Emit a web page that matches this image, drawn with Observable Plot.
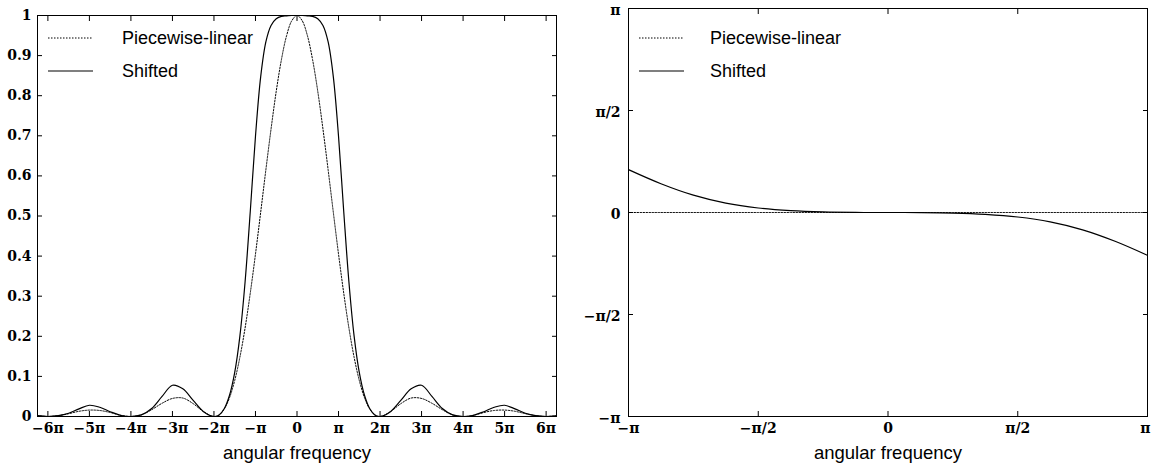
<!DOCTYPE html>
<html>
<head>
<meta charset="utf-8">
<script src="https://cdn.jsdelivr.net/npm/d3@7"></script>
<script src="https://cdn.jsdelivr.net/npm/@observablehq/plot@0.6"></script>
<style>
  html, body { margin: 0; padding: 0; background: white; overflow: hidden; }
  #wrap { position: relative; width: 1151px; height: 473px; }
  .panel { position: absolute; top: 0; }
  .legend-row { position: absolute; height: 18px; display: flex; align-items: center;
    font-family: "Liberation Sans", Arial, sans-serif; font-size: 18px; line-height: 18px; color: black; }
  .legend-row svg { display: block; }
</style>
</head>
<body>
<div id="wrap"></div>
<script>
// ---- Data (x in units of pi) ----
const leftX = [-6.25,-6,-5.75,-5.5,-5.25,-5,-4.75,-4.5,-4.25,-4,-3.75,-3.5,-3.25,-3,-2.75,-2.5,-2.25,-2,
  -1.875,-1.75,-1.625,-1.5,-1.375,-1.25,-1.125,-1,-0.875,-0.75,-0.625,-0.5,-0.375,-0.25,-0.125,0,
  0.125,0.25,0.375,0.5,0.625,0.75,0.875,1,1.125,1.25,1.375,1.5,1.625,1.75,1.875,
  2,2.25,2.5,2.75,3,3.25,3.5,3.75,4,4.25,4.5,4.75,5,5.25,5.5,5.75,6,6.25];
const pwLinearAmp = [0.002,0,0.002,0.007,0.013,0.016,0.015,0.010,0.003,0,0.004,0.017,0.033,0.045,0.046,0.032,0.012,0,
  0.004,0.019,0.047,0.090,0.148,0.221,0.308,0.405,0.509,0.615,0.717,0.811,0.890,0.950,0.987,1,
  0.987,0.950,0.890,0.811,0.717,0.615,0.509,0.405,0.308,0.221,0.148,0.090,0.047,0.019,0.004,
  0,0.012,0.032,0.046,0.045,0.033,0.017,0.004,0,0.003,0.010,0.015,0.016,0.013,0.007,0.002,0,0.002];
const shiftedAmp = [0.002,0,0.002,0.008,0.019,0.028,0.023,0.012,0.003,0,0.004,0.020,0.050,0.078,0.069,0.040,0.012,0,
  0.004,0.020,0.053,0.110,0.201,0.336,0.512,0.699,0.847,0.934,0.975,0.992,0.998,0.999,1.000,1,
  1.000,0.999,0.998,0.992,0.975,0.934,0.847,0.699,0.512,0.336,0.201,0.110,0.053,0.020,0.004,
  0,0.012,0.040,0.069,0.078,0.050,0.020,0.004,0,0.003,0.012,0.023,0.028,0.019,0.008,0.002,0,0.002];
const leftXTicks = [-6,-5,-4,-3,-2,-1,0,1,2,3,4,5,6];
const leftXTickLabels = ["\u22126\u03c0","\u22125\u03c0","\u22124\u03c0","\u22123\u03c0","\u22122\u03c0","\u2212\u03c0","0","\u03c0","2\u03c0","3\u03c0","4\u03c0","5\u03c0","6\u03c0"];
const leftYTicks = [0,0.1,0.2,0.3,0.4,0.5,0.6,0.7,0.8,0.9,1];
const leftYTickLabels = ["0","0.1","0.2","0.3","0.4","0.5","0.6","0.7","0.8","0.9","1"];

const rightX = [-1,-0.875,-0.75,-0.625,-0.5,-0.375,-0.25,-0.125,0,0.125,0.25,0.375,0.5,0.625,0.75,0.875,1];
const pwLinearPhase = [0,0,0,0,0,0,0,0,0,0,0,0,0,0,0,0,0];
const shiftedPhase = [0.210,0.141,0.085,0.046,0.022,0.009,0.0026,0.0003,0,-0.0003,-0.0026,-0.009,-0.022,-0.046,-0.085,-0.141,-0.210];
const rightXTicks = [-1,-0.5,0,0.5,1];
const rightXTickLabels = ["\u2212\u03c0","\u2212\u03c0/2","0","\u03c0/2","\u03c0"];
const rightYTicks = [-1,-0.5,0,0.5,1];
const rightYTickLabels = ["\u2212\u03c0","\u2212\u03c0/2","0","\u03c0/2","\u03c0"];

const seriesNames = ["Piecewise-linear","Shifted"];
const axisTitle = "angular frequency";

// ---- Styles ----
const dotted = {stroke: "black", strokeWidth: 1, strokeDasharray: "1.5,1.5"};
const solid = {stroke: "black", strokeWidth: 1.2};
const seriesStyles = [dotted, solid];
const tickFont = {fontFamily: "DejaVu Serif", fontWeight: "bold", fontSize: 14};

function panel(o) {
  const xf = d => o.xLabels[o.xTicks.indexOf(d)];
  const yf = d => o.yLabels[o.yTicks.indexOf(d)];
  const rows = o.x.map((x, i) => ({x, a: o.s1[i], b: o.s2[i]}));
  // keep the last x label inside the window when it sits on the edge
  const mainTicks = o.edgeLast ? o.xTicks.slice(0, -1) : o.xTicks;
  const edgeTicks = o.edgeLast ? o.xTicks.slice(-1) : [];
  return Plot.plot({
    width: o.width, height: 473,
    marginLeft: o.marginLeft, marginRight: o.marginRight, marginTop: o.marginTop, marginBottom: 57,
    x: {domain: o.xDomain},
    y: {domain: o.yDomain},
    style: {background: "white", color: "black", fontFamily: "Liberation Sans", fontSize: "18px"},
    marks: [
      Plot.axisX(o.xTicks, {anchor: "bottom", tickSize: -5, fill: "none", label: null}),
      Plot.axisX(o.xTicks, {anchor: "top", tickSize: -5, fill: "none", label: null}),
      Plot.axisY(o.yTicks, {anchor: "left", tickSize: -5, fill: "none", label: null}),
      Plot.axisY(o.yTicks, {anchor: "right", tickSize: -5, fill: "none", label: null}),
      Plot.axisX(mainTicks, {anchor: "bottom", tickSize: 0, tickPadding: 7, tickFormat: xf, label: null, ...tickFont}),
      edgeTicks.length ? Plot.axisX(edgeTicks, {anchor: "bottom", tickSize: 0, tickPadding: 7, tickFormat: xf, label: null, textAnchor: "end", dx: 3, ...tickFont}) : null,
      Plot.axisY(o.yTicks, {anchor: "left", tickSize: 0, tickPadding: o.yPad, tickFormat: yf, label: null, dy: o.yDy, ...tickFont}),
      Plot.line(rows, {x: "x", y: "a", curve: "catmull-rom", clip: true, ...seriesStyles[0]}),
      Plot.line(rows, {x: "x", y: "b", curve: "catmull-rom", clip: true, ...seriesStyles[1]}),
      Plot.frame({stroke: "black", strokeWidth: 1}),
      Plot.text([axisTitle], {text: d => d, frameAnchor: "bottom", dy: 42, fontSize: 18.5, fontFamily: "Liberation Sans", fill: "black"})
    ]
  });
}

const wrap = document.getElementById("wrap");

function addPanel(node, left) {
  const div = document.createElement("div");
  div.className = "panel";
  div.style.left = left + "px";
  div.appendChild(node);
  wrap.appendChild(div);
}

addPanel(panel({
  width: 575, marginLeft: 37, marginRight: 19, marginTop: 15,
  xDomain: [-6.25, 6.25], yDomain: [0, 1],
  xTicks: leftXTicks, xLabels: leftXTickLabels, yTicks: leftYTicks, yLabels: leftYTickLabels,
  x: leftX, s1: pwLinearAmp, s2: shiftedAmp, yPad: 6, yDy: 0, edgeLast: false
}), 0);

addPanel(panel({
  width: 576, marginLeft: 53, marginRight: 4, marginTop: 8,
  xDomain: [-1, 1], yDomain: [-1, 1],
  xTicks: rightXTicks, xLabels: rightXTickLabels, yTicks: rightYTicks, yLabels: rightYTickLabels,
  x: rightX, s1: pwLinearPhase, s2: shiftedPhase, yPad: 8, yDy: 2, edgeLast: true
}), 575);

// ---- Legends (HTML overlay) ----
function addLegend(lineLeft, textLeft) {
  seriesNames.forEach((name, i) => {
    const cy = [38, 71][i];
    const row = document.createElement("div");
    row.className = "legend-row";
    row.style.left = lineLeft + "px";
    row.style.top = (cy - 9) + "px";
    const st = seriesStyles[i];
    const w = textLeft - lineLeft;
    row.innerHTML = `<svg width="${w}" height="18"><line x1="0" x2="45" y1="9" y2="9" stroke="${st.stroke}" stroke-width="${st.strokeWidth}" ${st.strokeDasharray ? `stroke-dasharray="${st.strokeDasharray}"` : ""}/></svg><span>${name}</span>`;
    wrap.appendChild(row);
  });
}
addLegend(48, 122);
addLegend(639, 710);
</script>
</body>
</html>
